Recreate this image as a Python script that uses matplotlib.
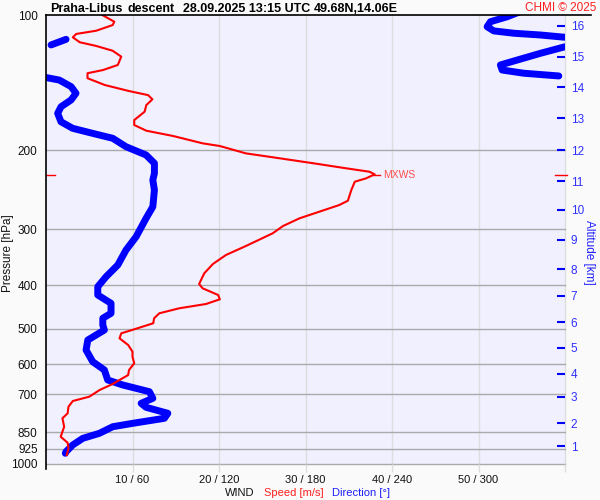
import numpy as np
import matplotlib
matplotlib.use('Agg')
import matplotlib.pyplot as plt
from matplotlib.lines import Line2D

plt.rcParams['font.family'] = ['Liberation Sans', 'DejaVu Sans']

# ---------------- data ----------------
speed_p = [100, 103.5, 105.3, 108.4, 110.2, 112.1, 115.0, 117.2, 120.1, 123.8,
           129.2, 132.6, 134.8, 138.3, 143.2, 147.7, 150.8, 154.1, 158.7, 164.2,
           171.4, 175.8, 181.0, 186.0, 193.1, 195.8, 203.3, 208.5, 213.9, 219.5,
           223.4, 226.4, 231.1, 235.1, 245.3, 259.2, 265.0, 274.2, 283.7, 295.1,
           306.4, 327.0, 342.4, 358.5, 376.0, 397.2, 406.1, 420.3, 429.7, 440.2,
           450.0, 461.7, 473.6, 485.9, 501.2, 511.6, 524.9, 543.2, 562.2, 576.8,
           596.7, 617.5, 633.6, 650.0, 663.5, 684.2, 708.1, 723.9, 745.4, 771.1,
           791.1, 826.0, 869.5, 896.7, 922.8, 954.9]
speed = [6.5, 7.9, 7.7, 5.8, 3.5, 3.1, 3.9, 5.8, 7.7, 8.7,
         8.3, 6.6, 4.8, 4.8, 6.8, 9.6, 11.8, 12.3, 11.6, 11.4,
         10.2, 10.2, 11.6, 14.7, 18.1, 20.1, 23.1, 27.0, 30.9, 34.7,
         37.4, 38.0, 37.0, 35.7, 35.3, 34.9, 33.9, 31.6, 29.3, 27.4,
         26.2, 23.1, 20.8, 19.3, 18.3, 17.7, 18.1, 19.9, 20.1, 18.5,
         15.4, 13.1, 12.5, 12.4, 10.2, 8.7, 8.5, 9.5, 10.0, 10.0,
         10.2, 9.6, 9.5, 8.5, 7.7, 6.2, 5.0, 3.1, 2.6, 2.5,
         1.9, 2.1, 1.7, 2.5, 2.6, 2.4]

dir_p = [98.6, 100.9, 103.5, 106.2, 108.5, 109.8, 110.8, 112.1, 113.3, 116.6,
         117.7, 121.7, 126.0, 129.2, 132.6, 134.8, 136.7, 137.8, 139.6, 144.4,
         149.4, 154.6, 160.1, 165.6, 172.9, 178.8, 183.5, 188.2, 196.5, 205.0,
         213.9, 225.2, 233.1, 245.3, 267.3, 283.7, 311.8, 333.8, 360.4, 382.6,
         402.9, 420.3, 438.6, 461.7, 473.6, 490.3, 503.0, 529.5, 557.3, 591.8,
         617.5, 650.0, 666.9, 690.2, 714.1, 732.6, 747.7, 771.1, 791.1, 811.7,
         826.0, 854.5, 876.7, 907.3, 938.9, 946.6]
direction = [327.9, 319.9, 308.3, 306.0, 310.6, 324.4, 343.0, 359.9, 13.9, 3.5,
             359.9, 343.0, 326.8, 315.2, 316.4, 331.4, 355.7, 0.0, 9.2, 17.4,
             20.8, 17.4, 10.4, 8.1, 10.4, 18.5, 32.4, 46.3, 55.5, 69.4,
             75.2, 75.2, 74.1, 75.2, 74.1, 69.4, 62.5, 55.5, 49.8, 41.7,
             35.9, 35.9, 45.1, 45.1, 39.4, 39.4, 40.5, 29.0, 27.8, 32.4,
             40.5, 42.8, 53.3, 71.7, 74.1, 66.0, 69.4, 84.5, 82.1, 60.2,
             46.3, 37.0, 25.5, 18.5, 13.9, 13.4]

pressure_ticks = [100, 200, 300, 400, 500, 600, 700, 850, 925, 1000]
alt_km = list(range(1, 17))
alt_p = [911.9, 810.4, 708.1, 630.3, 550.8, 483.4, 422.5, 367.9, 317.0, 271.8,
         234.3, 200.0, 169.9, 144.9, 123.8, 105.8]
speed_ticks = [10, 20, 30, 40, 50]
dir_ticks = [60, 120, 180, 240, 300]
mxws_p = 227.0
mxws_speed = 38.0

# ---------------- figure ----------------
W, H = 600, 500
fig = plt.figure(figsize=(6, 5), dpi=100, facecolor='#fafafa')


def fx(x):
    return x / W


def fy(y):
    return 1 - y / H


L, R, T, B = 46, 565, 15, 464
ax = fig.add_axes([fx(L), fy(B), (R - L) / W, (B - T) / H])
ax.set_facecolor('#f0f0ff')
ax.set_yscale('log')
ax.set_ylim(1000, 100)
ax.set_xlim(0, 60)
for s in ax.spines.values():
    s.set_visible(False)
ax.minorticks_off()
ax.set_yticks(pressure_ticks)
ax.set_yticklabels([str(p) for p in pressure_ticks])
ax.tick_params(axis='y', which='both', length=0, pad=6, labelsize=8.5, labelcolor='#111111')
ax.set_xticks(speed_ticks + [60])
ax.set_xticklabels([f'{s} / {d}' for s, d in zip(speed_ticks, dir_ticks)] + [''])
ax.tick_params(axis='x', length=6, color='#dddddd', width=1, pad=2, labelsize=8, labelcolor='#111111')
for s in speed_ticks:
    ax.axvline(s, color='#dddddd', lw=1, zorder=0)
ax.axvline(60, color='#dddddd', lw=1, zorder=0, clip_on=False)
for p in pressure_ticks[1:]:
    ax.axhline(p, color='#aaaaaa', lw=1, zorder=0.5, clip_on=False)

# direction: break the line where it wraps through 0/360
d_arr = np.asarray(direction, dtype=float)
p_arr = np.asarray(dir_p, dtype=float)
breaks = np.where(np.abs(np.diff(d_arr)) > 180)[0] + 1
for seg_d, seg_p in zip(np.split(d_arr, breaks), np.split(p_arr, breaks)):
    ax.plot(seg_d / 6.0, seg_p, color='#0000ff', lw=5,
            solid_capstyle='round', solid_joinstyle='round', zorder=2)

# speed
ax.plot(speed, speed_p, color='#ff0000', lw=1.5, zorder=3)

# max wind marker
ax.plot([mxws_speed - 0.2, mxws_speed + 0.6], [mxws_p, mxws_p], color='#ff0000', lw=1, zorder=3)
ax.text(mxws_speed + 1.0, mxws_p, 'MXWS', color='#ff5050', fontsize=7.5, va='center', ha='left')
ax.axhline(mxws_p, xmin=0, xmax=0.018, color='#ff0000', lw=1, zorder=4)
ax.axhline(mxws_p, xmin=0.981, xmax=1.004, color='#ff0000', lw=1, zorder=4, clip_on=False)

# altitude axis
ax2 = ax.twinx()
ax2.set_yscale('log')
ax2.set_ylim(1000, 100)
for s in ax2.spines.values():
    s.set_visible(False)
ax2.minorticks_off()
ax2.set_yticks(alt_p)
ax2.set_yticklabels([str(k) for k in alt_km])
ax2.tick_params(axis='y', which='major', direction='in', length=6, width=1.5, color='#0000ff',
                labelcolor='#3030ff', pad=4, labelsize=8.5)
ax2.minorticks_off()

# frame lines
fig.add_artist(Line2D([fx(L), fx(591)], [fy(T), fy(T)], color='black', lw=1.2))
fig.add_artist(Line2D([fx(L), fx(L)], [fy(T), fy(469)], color='black', lw=1.2))

# texts
fig.text(fx(50), fy(12), 'Praha-Libus', fontsize=9, fontweight='bold', va='baseline')
fig.text(fx(128), fy(12), 'descent', fontsize=9, fontweight='bold', va='baseline')
fig.text(fx(183), fy(12), '28.09.2025 13:15 UTC', fontsize=9, fontweight='bold', va='baseline')
fig.text(fx(314), fy(12), '49.68N,14.06E', fontsize=9, fontweight='bold', va='baseline')
fig.text(fx(596), fy(11), 'CHMI \u00a9 2025', fontsize=8.5, color='#ff2020', ha='right', va='baseline')

fig.text(fx(8), fy(253), 'Pressure [hPa]', rotation=90, ha='center', va='center', fontsize=8.5, color='#111111')
fig.text(fx(589), fy(252), 'Altitude [km]', rotation=-90, ha='center', va='center', fontsize=8.5, color='#2020ff')

fig.text(fx(225), fy(496), 'WIND', fontsize=8, va='baseline', color='#111111')
fig.text(fx(264), fy(496), 'Speed [m/s]', fontsize=8, va='baseline', color='#ff2020')
fig.text(fx(332), fy(496), 'Direction [\u00b0]', fontsize=8, va='baseline', color='#2020ff')

fig.savefig('out.png', dpi=100, facecolor=fig.get_facecolor())
